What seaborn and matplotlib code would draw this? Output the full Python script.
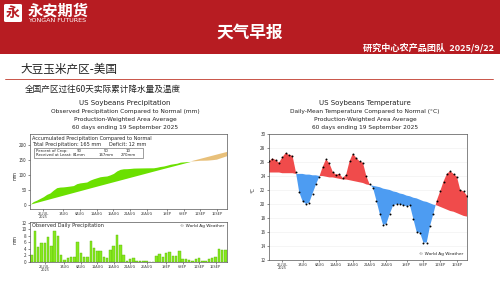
import numpy as np
import pandas as pd
import matplotlib
matplotlib.use("Agg")
import matplotlib.pyplot as plt
import seaborn as sns
from matplotlib.patches import Rectangle, FancyBboxPatch

# ---------------- data ----------------
tick_days = [4, 10, 15, 20, 25, 30, 35, 41, 46, 51, 56]
tick_labels = ["26JUL\n2025", "1AUG", "6AUG", "11AUG", "16AUG", "21AUG",
               "26AUG", "1SEP", "6SEP", "11SEP", "16SEP"]

daily_precip = [2.3, 9.5, 4.6, 5.9, 5.7, 7.7, 4.8, 9.5, 8.1, 2.0,
                0.6, 1.3, 1.5, 1.6, 6.3, 2.7, 1.4, 1.5, 6.4, 4.2,
                3.5, 3.4, 1.5, 1.1, 3.7, 4.9, 8.3, 5.1, 2.0, 0.3,
                0.8, 1.1, 0.3, 0.2, 0.2, 0.2, 0.1, 0.1, 1.8, 2.5,
                1.6, 2.7, 3.1, 1.8, 1.7, 3.5, 0.9, 1.0, 0.6, 0.2,
                0.9, 1.1, 0.2, 0.2, 0.8, 1.1, 1.4, 3.9, 3.7, 3.8]

normal_daily_precip = [3.1, 3.1, 3.1, 3.0, 3.0, 3.0, 3.0, 3.0, 3.0, 3.0,
                       3.0, 3.0, 3.0, 3.0, 3.0, 3.0, 3.0, 3.0, 3.0, 3.0,
                       2.95, 2.95, 2.95, 2.95, 2.95, 2.95, 2.95, 2.95, 2.95, 2.95,
                       2.95, 2.95, 2.95, 2.95, 2.95, 2.95, 2.95, 2.95, 2.95, 2.95,
                       2.9, 2.9, 2.9, 2.9, 2.9, 2.9, 2.9, 2.9, 2.9, 2.9,
                       2.9, 2.9, 2.9, 2.9, 2.9, 2.9, 2.9, 2.9, 2.85, 2.85]

temp_obs = [26.1, 26.5, 26.3, 25.9, 26.7, 27.3, 27.0, 26.9, 24.6, 21.7,
            20.4, 20.0, 20.2, 21.5, 22.8, 23.9, 25.3, 26.4, 25.8, 24.6,
            24.2, 24.3, 23.7, 24.2, 26.1, 27.2, 26.6, 26.1, 25.9, 24.0,
            22.8, 22.3, 20.5, 18.6, 17.0, 17.2, 18.6, 19.8, 20.0, 20.0,
            19.8, 19.7, 19.8, 17.9, 16.0, 15.9, 14.5, 14.5, 16.9, 18.6,
            20.5, 21.8, 23.2, 24.3, 24.7, 24.3, 23.9, 22.0, 21.8, 21.2]

temp_normal = [24.5, 24.5, 24.5, 24.5, 24.4, 24.4, 24.4, 24.4, 24.3, 24.3,
               24.3, 24.2, 24.2, 24.1, 24.1, 24.0, 24.0, 23.9, 23.8, 23.8,
               23.7, 23.6, 23.5, 23.5, 23.4, 23.3, 23.2, 23.1, 23.0, 22.8,
               22.7, 22.6, 22.5, 22.4, 22.2, 22.1, 22.0, 21.8, 21.7, 21.5,
               21.4, 21.2, 21.1, 20.9, 20.8, 20.6, 20.4, 20.3, 20.1, 19.9,
               19.8, 19.6, 19.4, 19.2, 19.0, 18.9, 18.7, 18.5, 18.3, 18.2]

# ---------------- style ----------------
sns.set_theme(style="ticks")
plt.rcParams["font.family"] = ["Noto Sans CJK SC", "DejaVu Sans"]
plt.rcParams["axes.unicode_minus"] = False

W, H = 500, 281
fig = plt.figure(figsize=(5.0, 2.81), dpi=100)
fig.patch.set_facecolor("white")

def fx(px):
    return px / W

def fy(py):
    return 1 - py / H

RED = "#B71C22"
FONT = ["DejaVu Sans"]

# ---------------- header ----------------
fig.patches.append(Rectangle((0, fy(54)), 1, 54 / H, transform=fig.transFigure,
                             facecolor=RED, edgecolor="none", zorder=0))
fig.patches.append(FancyBboxPatch((fx(4), fy(22)), 18 / W, 18 / H,
                                  boxstyle="round,pad=0,rounding_size=0.004",
                                  transform=fig.transFigure, facecolor="white",
                                  edgecolor="none", zorder=1))
fig.text(fx(13), fy(13), "永", color=RED, fontsize=10, fontweight="bold",
         ha="center", va="center", zorder=2)
fig.text(fx(28), fy(10), "永安期货", color="white", fontsize=11, fontweight="bold",
         ha="left", va="center")
fig.text(fx(28), fy(20.5), "YONGAN FUTURES", color="white", fontsize=4.6,
         ha="left", va="center", family=FONT)
fig.text(0.5, fy(33), "天气早报", color="white", fontsize=12, fontweight="bold",
         ha="center", va="center")
fig.text(fx(494), fy(48), "研究中心农产品团队  2025/9/22", color="white", fontsize=6.6,
         fontweight="bold", ha="right", va="center")

fig.text(fx(20), fy(69), "大豆玉米产区-美国", color="#222222", fontsize=8.4,
         ha="left", va="center")
fig.lines.append(plt.Line2D([fx(5), fx(493)], [fy(79), fy(79)], transform=fig.transFigure,
                            color="#C0392B", linewidth=0.6))
fig.text(fx(25), fy(89), "全国产区过往60天实际累计降水量及温度", color="#222222",
         fontsize=6.2, ha="left", va="center")

# chart titles
for cx, lines in [(125, ["US Soybeans Precipitation",
                         "Observed Precipitation Compared to Normal (mm)",
                         "Production-Weighted Area Average",
                         "60 days ending 19 September 2025"]),
                  (365, ["US Soybeans Temperature",
                         "Daily-Mean Temperature Compared to Normal (°C)",
                         "Production-Weighted Area Average",
                         "60 days ending 19 September 2025"])]:
    for ly, txt, fs in zip([103, 112, 119.5, 127], lines, [5.0, 4.2, 4.2, 4.2]):
        fig.text(fx(cx), fy(ly), txt, fontsize=fs, ha="center", va="center",
                 color="#222222", family=FONT)

def style_axes(ax):
    for s in ax.spines.values():
        s.set_linewidth(0.5)
        s.set_color("#555555")
    ax.tick_params(axis="both", labelsize=3.3, length=1.5, width=0.4, pad=1,
                   colors="#333333")
    ax.tick_params(axis="x", pad=0.6)
    ax.set_xlabel("")
    ax.set_ylabel("")

def set_dates(ax):
    ax.set_xticks(tick_days)
    ax.set_xticklabels(tick_labels, fontsize=2.8, linespacing=0.85)

days = np.arange(60)
cum_obs = np.cumsum(daily_precip)
cum_norm = np.cumsum(normal_daily_precip)

# ---------------- precipitation: cumulative ----------------
ax1 = fig.add_axes([fx(30), fy(209), 197 / W, 75 / H])
df_cum = pd.DataFrame({"day": days, "obs": cum_obs, "norm": cum_norm})
sns.lineplot(data=df_cum, x="day", y="obs", ax=ax1, color="#66DD00", linewidth=0)
ax1.fill_between(days, cum_obs, cum_norm, where=cum_obs >= cum_norm,
                 interpolate=True, color="#6BE000", linewidth=0)
ax1.fill_between(days, cum_obs, cum_norm, where=cum_obs < cum_norm,
                 interpolate=True, color="#E8C07A", linewidth=0)
ax1.set_xlim(0, 59)
ax1.set_ylim(-13, 237)
ax1.set_yticks([0, 50, 100, 150, 200])
style_axes(ax1)
set_dates(ax1)
fig.text(fx(15), fy(175), "mm", rotation=90, fontsize=3.3, ha="center", va="center",
         family=FONT)
ax1.text(0.012, 0.945, "Accumulated Precipitation Compared to Normal", transform=ax1.transAxes,
         fontsize=3.6, ha="left", va="center", family=FONT)
ax1.text(0.012, 0.865, "Total Precipitation: 165 mm", transform=ax1.transAxes,
         fontsize=3.6, ha="left", va="center", family=FONT)
ax1.text(0.40, 0.865, "Deficit: 12 mm", transform=ax1.transAxes,
         fontsize=3.6, ha="left", va="center", family=FONT)
ax1.add_patch(Rectangle((0.02, 0.685), 0.555, 0.125, transform=ax1.transAxes,
                        facecolor="white", edgecolor="#555555", linewidth=0.4))
for ty, lab, vals in [(0.775, "Percent of Crop:", ["90", "50", "10"]),
                      (0.72, "Received at Least:", ["81mm", "167mm", "270mm"])]:
    ax1.text(0.03, ty, lab, transform=ax1.transAxes, fontsize=2.8, ha="left",
             va="center", family=FONT)
    for vx, v in zip([0.25, 0.385, 0.5], vals):
        ax1.text(vx, ty, v, transform=ax1.transAxes, fontsize=2.8, ha="center",
                 va="center", family=FONT)

# ---------------- precipitation: daily bars ----------------
ax2 = fig.add_axes([fx(30), fy(262), 197 / W, 40 / H])
df_bar = pd.DataFrame({"day": days, "precip": daily_precip})
sns.barplot(data=df_bar, x="day", y="precip", ax=ax2, native_scale=True,
            color="#86E81E", edgecolor="#5FB80A", linewidth=0.3, width=0.75,
            saturation=1)
ax2.set_xlim(-0.5, 59.5)
ax2.set_ylim(0, 12.3)
ax2.set_yticks([0, 2, 4, 6, 8, 10, 12])
style_axes(ax2)
set_dates(ax2)
fig.text(fx(15), fy(240), "mm", rotation=90, fontsize=3.3, ha="center", va="center",
         family=FONT)
ax2.text(0.012, 0.9, "Observed Daily Precipitation", transform=ax2.transAxes,
         fontsize=3.6, ha="left", va="center", family=FONT)
ax2.text(0.985, 0.9, "© World Ag Weather", transform=ax2.transAxes,
         fontsize=3.1, ha="right", va="center", family=FONT)

# ---------------- temperature ----------------
ax3 = fig.add_axes([fx(269), fy(260), 198 / W, 126 / H])
t_obs = np.array(temp_obs)
t_norm = np.array(temp_normal)
ax3.fill_between(days, t_obs, t_norm, where=t_obs >= t_norm, interpolate=True,
                 color="#F04B4B", linewidth=0)
ax3.fill_between(days, t_obs, t_norm, where=t_obs < t_norm, interpolate=True,
                 color="#4D9CF2", linewidth=0)
df_t = pd.DataFrame({"day": days, "temp": temp_obs})
sns.scatterplot(data=df_t, x="day", y="temp", ax=ax3, color="black", s=2.0,
                linewidth=0, zorder=5)
ax3.set_xlim(0, 59)
ax3.set_ylim(12, 30)
ax3.set_yticks(np.arange(12, 31, 2))
ax3.yaxis.grid(True, color="#EEEEEE", linewidth=0.4)
ax3.set_axisbelow(True)
style_axes(ax3)
set_dates(ax3)
fig.text(fx(253), fy(190), "°C", rotation=90, fontsize=3.5, ha="center", va="center",
         family=FONT)
ax3.text(0.98, 0.05, "© World Ag Weather", transform=ax3.transAxes,
         fontsize=3.1, ha="right", va="center", family=FONT)

fig.savefig("out.png", dpi=100)
